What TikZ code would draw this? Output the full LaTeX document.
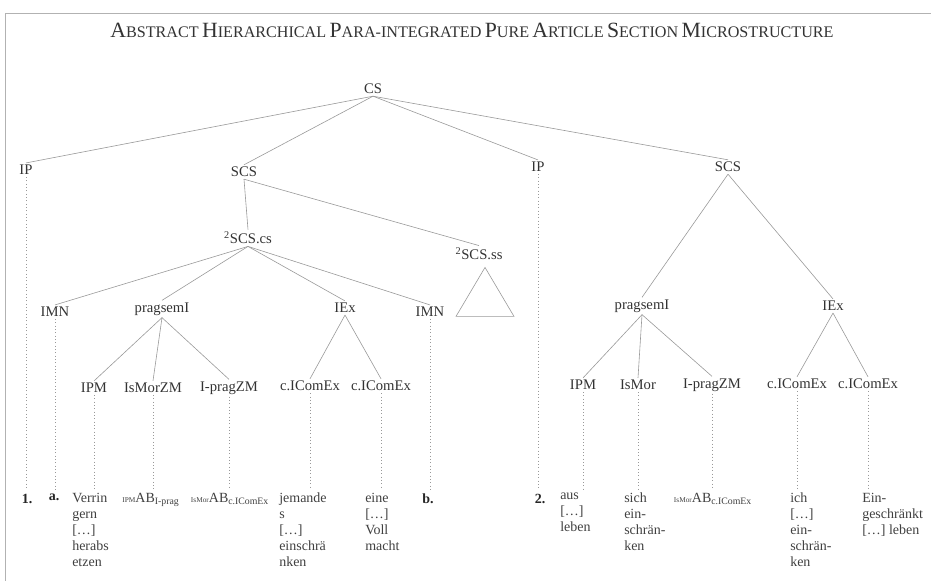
\documentclass[tikz,border=0pt]{standalone}
\usepackage{fontspec}
\setmainfont{Liberation Serif}

% fake small caps for the heading
\newcommand{\bigsc}[2]{{\fontsize{16.3}{19}\selectfont #1}{\fontsize{12.1}{14}\selectfont #2}}
\newcommand{\abpre}[1]{\raisebox{0.3pt}{\fontsize{5.5}{6}\selectfont #1}}

\tikzset{
  lab/.style={font=\fontsize{11}{13}\selectfont, text=black!80, inner sep=1.5pt},
  leaf/.style={font=\fontsize{10.5}{12}\selectfont, text=black!75, align=left, anchor=north west, inner sep=0pt},
  num/.style={font=\bfseries\fontsize{10.5}{12}\selectfont, text=black!85, anchor=north, inner sep=0pt},
  abl/.style={font=\fontsize{10.5}{12}\selectfont, text=black!75, anchor=north, inner sep=0pt},
  branch/.style={draw=black!40, line width=0.45pt},
  trace/.style={draw=black!40, dotted, line width=0.5pt, shorten >=3pt},
}

\begin{document}
\begin{tikzpicture}[x=0.75pt, y=-0.75pt]
  \useasboundingbox (0,0) rectangle (931,581);
  \draw[black!30, line width=0.6pt] (931,13) -- (5,13) -- (5,581);

  \node[text=black!80] (title) at (472,30) {\bigsc{A}{BSTRACT} \bigsc{H}{IERARCHICAL} \bigsc{P}{ARA-INTEGRATED} \bigsc{P}{URE} \bigsc{A}{RTICLE} \bigsc{S}{ECTION} \bigsc{M}{ICROSTRUCTURE}};

  % upper levels
  \node[lab] (cs) at (373,89) {CS};
  \node[lab] (ipa) at (26,170) {IP};
  \node[lab] (scsa) at (244,172) {SCS};
  \node[lab] (ipb) at (538,167) {IP};
  \node[lab] (scsb) at (728,167) {SCS};
  \node[lab] (cs2) at (248,238) {\textsuperscript{2}SCS.cs};
  \node[lab] (ss2) at (479,254) {\textsuperscript{2}SCS.ss};

  % left part
  \node[lab] (imna) at (55,312) {IMN};
  \node[lab] (psa) at (162,309) {pragsemI};
  \node[lab] (iexa) at (345,308) {IEx};
  \node[lab] (imnb) at (430,312) {IMN};
  \node[lab] (ipma) at (94,388) {IPM};
  \node[lab] (ismorzm) at (153,388) {IsMorZM};
  \node[lab] (iprza) at (229,388) {I-pragZM};
  \node[lab] (cia) at (310,386) {c.IComEx};
  \node[lab] (cib) at (381,386) {c.IComEx};

  % right part
  \node[lab] (psb) at (642,306) {pragsemI};
  \node[lab] (iexb) at (833,306) {IEx};
  \node[lab] (ipmb) at (583,385) {IPM};
  \node[lab] (ismor) at (638,385) {IsMor};
  \node[lab] (iprzb) at (712,385) {I-pragZM};
  \node[lab] (cic) at (797,384) {c.IComEx};
  \node[lab] (cid) at (868,384) {c.IComEx};

  % bottom row
  \node[num] (one) at (27,494) {1.};
  \node[num] (a) at (54,494) {a.};
  \node[leaf] (verr) at (72,493) {Verrin\\gern\\{[…]}\\herabs\\etzen};
  \node[abl] (abipm) at (151,493) {\abpre{IPM}AB\textsubscript{I-prag}};
  \node[abl] (abismor) at (230,493) {\abpre{IsMor}AB\textsubscript{c.IComEx}};
  \node[leaf] (jem) at (279,493) {jemande\\s\\{[…]}\\einschrä\\nken};
  \node[leaf] (eine) at (365,493) {eine\\{[…]}\\Voll\\macht};
  \node[num] (b) at (428,494) {b.};
  \node[num] (two) at (540,494) {2.};
  \node[leaf] (aus) at (560,493) {aus\\{[…]}\\leben};
  \node[leaf] (sich) at (624,493) {sich\\ein-\\schrän-\\ken};
  \node[abl] (abismorb) at (713,493) {\abpre{IsMor}AB\textsubscript{c.IComEx}};
  \node[leaf] (ich) at (790,493) {ich\\{[…]}\\ein-\\schrän-\\ken};
  \node[leaf] (ein) at (862,493) {Ein-\\geschränkt\\{[…]} leben};

  % the empty subtree
  \draw[branch] (ss2.south) ++(6,5) -- ++(-29,49) -- ++(58,0) -- cycle;

  % branches
  \draw[branch] (cs.south) to (ipa.north);
  \draw[branch] (cs.south) to (scsa.north);
  \draw[branch] (cs.south) to (ipb.north);
  \draw[branch] (cs.south) to (scsb.north);
  \draw[branch] (scsa.south) to (cs2.north);
  \draw[branch] (scsa.south) to (ss2.north);
  \draw[branch] (cs2.south) to (imna.north);
  \draw[branch] (cs2.south) to (psa.north);
  \draw[branch] (cs2.south) to (iexa.north);
  \draw[branch] (cs2.south) to (imnb.north);
  \draw[branch] (psa.south) to (ipma.north);
  \draw[branch] (psa.south) to (ismorzm.north);
  \draw[branch] (psa.south) to (iprza.north);
  \draw[branch] (iexa.south) to (cia.north);
  \draw[branch] (iexa.south) to (cib.north);
  \draw[branch] (scsb.south) to (psb.north);
  \draw[branch] (scsb.south) to (iexb.north);
  \draw[branch] (psb.south) to (ipmb.north);
  \draw[branch] (psb.south) to (ismor.north);
  \draw[branch] (psb.south) to (iprzb.north);
  \draw[branch] (iexb.south) to (cic.north);
  \draw[branch] (iexb.south) to (cid.north);

  % dotted traces down to the examples
  \draw[trace] (ipa.south) -- (ipa.south |- one.north);
  \draw[trace] (imna.south) -- (imna.south |- a.north);
  \draw[trace] (ipma.south) -- (ipma.south |- verr.north);
  \draw[trace] (ismorzm.south) -- (ismorzm.south |- abipm.north);
  \draw[trace] (iprza.south) -- (iprza.south |- abismor.north);
  \draw[trace] (cia.south) -- (cia.south |- jem.north);
  \draw[trace] (cib.south) -- (cib.south |- eine.north);
  \draw[trace] (imnb.south) -- (imnb.south |- b.north);
  \draw[trace] (ipb.south) -- (ipb.south |- two.north);
  \draw[trace] (ipmb.south) -- (ipmb.south |- aus.north);
  \draw[trace] (ismor.south) -- (ismor.south |- sich.north);
  \draw[trace] (iprzb.south) -- (iprzb.south |- abismorb.north);
  \draw[trace] (cic.south) -- (cic.south |- ich.north);
  \draw[trace] (cid.south) -- (cid.south |- ein.north);
\end{tikzpicture}
\end{document}
